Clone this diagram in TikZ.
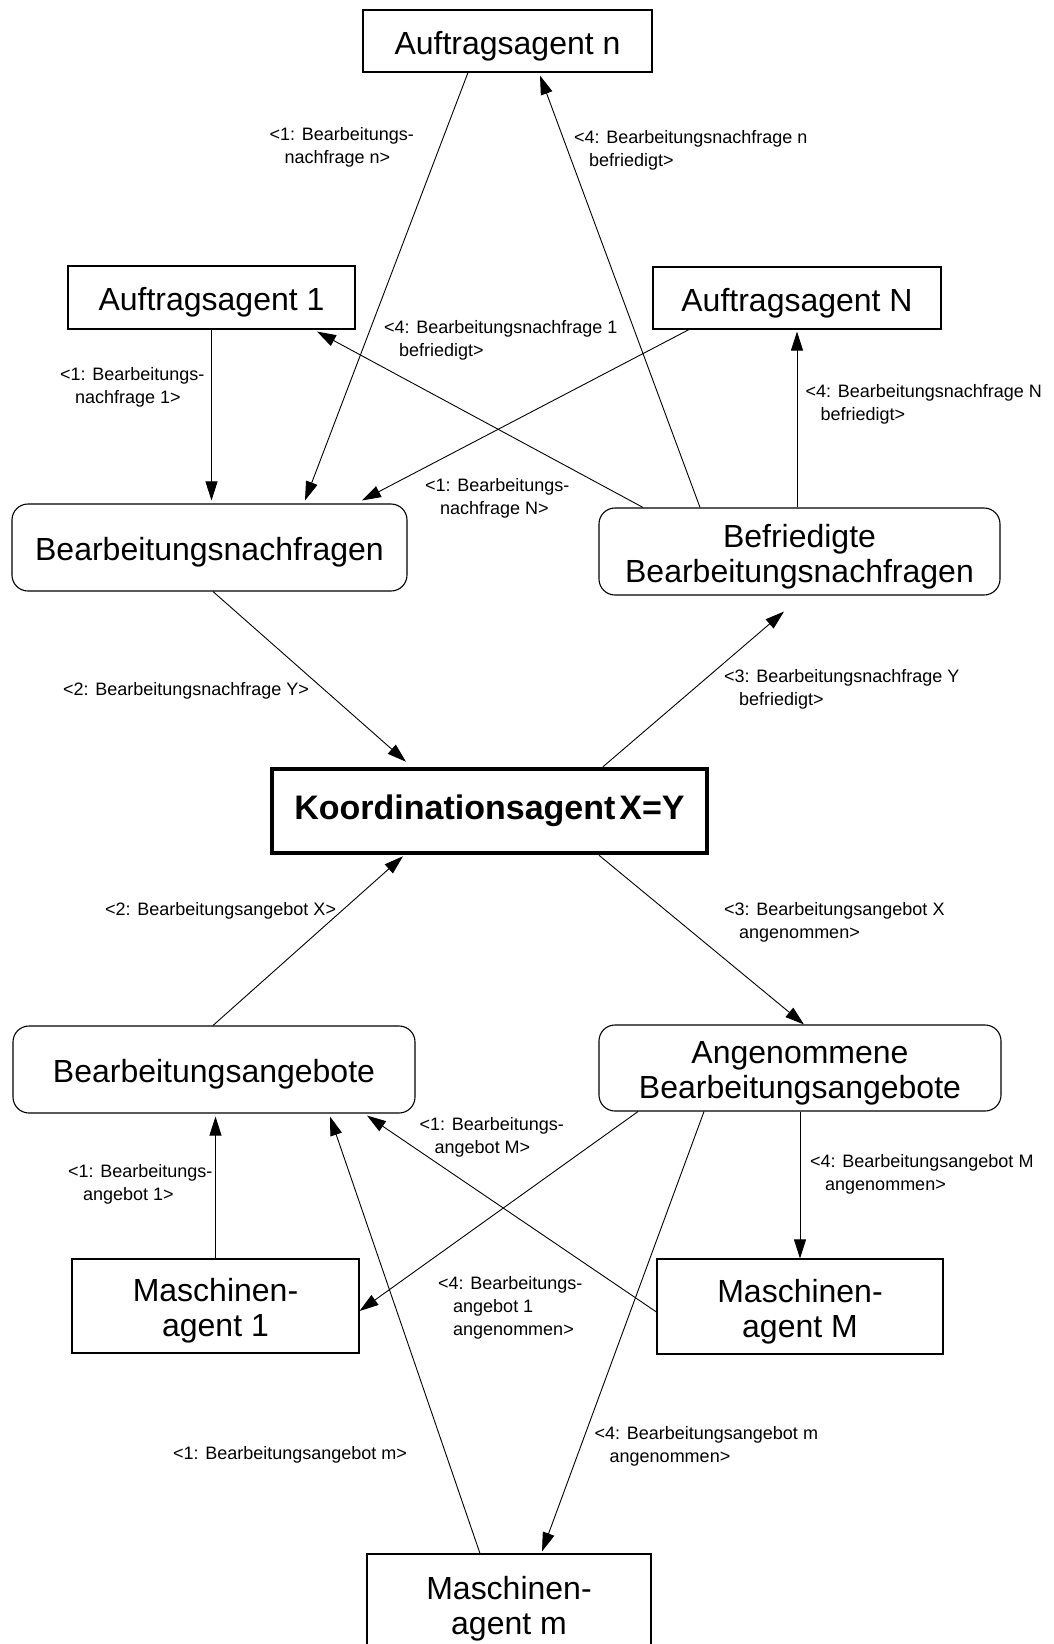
\documentclass[tikz,border=0pt]{standalone}
\usepackage{fontspec}
\setmainfont{Liberation Sans}
\usetikzlibrary{arrows.meta,calc}
\newcommand{\tstrut}{\rule{0pt}{33.5pt}}
\begin{document}
\begin{tikzpicture}[x=1pt,y=-1pt,
  arr/.style={line width=0.9pt,-{Triangle[length=19pt,width=12pt]}},
  agent/.style={draw,line width=1.1pt,inner sep=0pt,align=center,font=\fontsize{32}{35}\selectfont},
  pool/.style={agent,rounded corners=16pt},
  koord/.style={draw,line width=4.5pt,inner sep=0pt,font=\fontsize{34}{37}\selectfont\bfseries},
  lbl/.style={anchor=north west,inner sep=0pt,align=left,font=\fontsize{18}{23}\selectfont}]
\useasboundingbox (0,0) rectangle (1054,1644);
\clip (0,0) rectangle (1054,1644);
\fill[white] (0,0) rectangle (1054,1644);

% nodes
\node[agent,minimum width=289pt,minimum height=62pt] (An) at (507.5,41) {\tstrut Auftragsagent n};
\node[agent,minimum width=287pt,minimum height=63pt] (A1) at (211.5,297.5) {\tstrut Auftragsagent 1};
\node[agent,minimum width=288pt,minimum height=62pt] (AN) at (797,298) {\tstrut Auftragsagent N};
\node[pool,minimum width=395pt,minimum height=87pt] (BN) at (209.5,547.5) {\tstrut Bearbeitungsnachfragen};
\node[pool,minimum width=401pt,minimum height=87pt] (BB) at (799.5,551.5) {\tstrut Befriedigte\\Bearbeitungsnachfragen};
\node[koord,minimum width=435pt,minimum height=84pt] (K) at (489.5,811) {Koordinationsagent\hspace{4pt}X=Y};
\node[pool,minimum width=402pt,minimum height=87pt] (BA) at (214,1069.5) {\tstrut Bearbeitungsangebote};
\node[pool,minimum width=402pt,minimum height=86pt] (AB) at (800,1068) {\tstrut Angenommene\\Bearbeitungsangebote};
\node[agent,minimum width=287pt,minimum height=94pt] (M1) at (215.5,1306) {\tstrut Maschinen-\\agent 1};
\node[agent,minimum width=286pt,minimum height=95pt] (MM) at (800,1306.5) {\tstrut Maschinen-\\agent M};
\node[agent,minimum width=284pt,minimum height=100pt] (Mm) at (509,1604) {\tstrut Maschinen-\\agent m};

% connectors
\draw[arr] (A1.south) -- ([yshift=3pt]A1.south |- BN.north);
\draw[arr] ([xshift=-39.5pt]An.south) -- ([xshift=95.5pt,yshift=3pt]BN.north);
\draw[arr] ([xshift=-108pt]AN.south) -- ([xshift=152.5pt,yshift=3pt]BN.north);
\draw[arr] ([xshift=-156.5pt]BB.north) -- ([xshift=105.5pt,yshift=-2pt]A1.south);
\draw[arr] ([xshift=-99.5pt]BB.north) -- ([xshift=32.5pt,yshift=-3pt]An.south);
\draw[arr] (AN.south |- BB.north) -- ([yshift=-2pt]AN.south);
\draw[arr] ([xshift=3.5pt]BN.south) -- ([xshift=-83.5pt,yshift=5pt]K.north);
\draw[arr] ([xshift=113.5pt]K.north) -- ([xshift=-15.5pt,yshift=-16pt]BB.south);
\draw[arr] ([xshift=-1pt]BA.north) -- ([xshift=-86.5pt,yshift=-1pt]K.south);
\draw[arr] ([xshift=109.5pt]K.south) -- ([xshift=4pt]AB.north);
\draw[arr] (M1.north) -- ([yshift=-3pt]M1.north |- BA.south);
\draw[arr] ([xshift=-162pt]AB.south) -- ([yshift=-5pt]M1.east);
\draw[arr] ([yshift=-5.5pt]MM.west) -- ([xshift=153pt,yshift=-2pt]BA.south);
\draw[arr] ([xshift=-29pt]Mm.north) -- ([xshift=116pt,yshift=-3pt]BA.south);
\draw[arr] (MM.north |- AB.south) -- (MM.north);
\draw[arr] ([xshift=-96pt]AB.south) -- ([xshift=33pt,yshift=2pt]Mm.north);

% labels
\node[lbl] (l1) at (269.5,127) {<1: Bearbeitungs-\\\hspace*{15pt}nachfrage n>};
\node[lbl] (l2) at (574,130) {<4: Bearbeitungsnachfrage n\\\hspace*{15pt}befriedigt>};
\node[lbl] (l3) at (384,320) {<4: Bearbeitungsnachfrage 1\\\hspace*{15pt}befriedigt>};
\node[lbl] (l4) at (60,367) {<1: Bearbeitungs-\\\hspace*{15pt}nachfrage 1>};
\node[lbl] (l5) at (805.5,384) {<4: Bearbeitungsnachfrage N\\\hspace*{15pt}befriedigt>};
\node[lbl] (l6) at (425,478) {<1: Bearbeitungs-\\\hspace*{15pt}nachfrage N>};
\node[lbl] (l7) at (63,682) {<2: Bearbeitungsnachfrage Y>};
\node[lbl] (l8) at (724,669) {<3: Bearbeitungsnachfrage Y\\\hspace*{15pt}befriedigt>};
\node[lbl] (l9) at (105,902) {<2: Bearbeitungsangebot X>};
\node[lbl] (l10) at (724,902) {<3: Bearbeitungsangebot X\\\hspace*{15pt}angenommen>};
\node[lbl] (l11) at (419.5,1117) {<1: Bearbeitungs-\\\hspace*{15pt}angebot M>};
\node[lbl] (l12) at (68,1164) {<1: Bearbeitungs-\\\hspace*{15pt}angebot 1>};
\node[lbl] (l13) at (810,1154) {<4: Bearbeitungsangebot M\\\hspace*{15pt}angenommen>};
\node[lbl] (l14) at (438,1276) {<4: Bearbeitungs-\\\hspace*{15pt}angebot 1\\\hspace*{15pt}angenommen>};
\node[lbl] (l15) at (173,1446) {<1: Bearbeitungsangebot m>};
\node[lbl] (l16) at (594.5,1426) {<4: Bearbeitungsangebot m\\\hspace*{15pt}angenommen>};
\end{tikzpicture}
\end{document}
